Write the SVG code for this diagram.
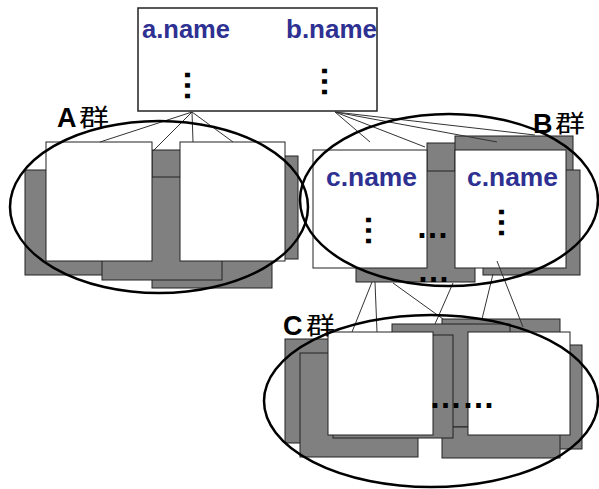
<svg xmlns="http://www.w3.org/2000/svg" width="599" height="489" viewBox="0 0 599 489">
<style>
.bg{fill:#ffffff}
.sh{fill:#808080;stroke:#222;stroke-width:1}
.pg{fill:#ffffff;stroke:#222;stroke-width:1}
.box{fill:#ffffff;stroke:#222;stroke-width:1.5}
.ring{fill:none;stroke:#000;stroke-width:2.5}
.ln{stroke:#333;stroke-width:1;fill:none}
.nm{font-family:"Liberation Sans",Arial,sans-serif;font-weight:bold;fill:#2e3192}
.dots{font-family:"Liberation Sans",Arial,sans-serif;font-weight:bold;font-size:33px;fill:#000}
.grp{font-family:"Liberation Sans","Noto Sans CJK SC",sans-serif;fill:#000}
.grp .l{font-weight:bold;font-size:27px}
.grp .c{font-family:"Noto Sans CJK SC",sans-serif;font-weight:normal;font-size:24px}
</style>
<rect class="bg" x="0" y="0" width="599" height="489"/>

<g id="node-ab">
<rect class="box" x="138" y="8" width="239" height="103"/>
<text class="nm" x="142" y="38" font-size="25" textLength="88" lengthAdjust="spacingAndGlyphs">a.name</text>
<text class="nm" x="286" y="38" font-size="25" textLength="91" lengthAdjust="spacingAndGlyphs">b.name</text>
<text class="dots" transform="translate(185,69) rotate(90)">…</text>
<text class="dots" transform="translate(322,65) rotate(90)">…</text>
</g>

<g id="node-A">
<rect class="sh" x="200" y="156" width="98" height="103"/>
<rect class="sh" x="152" y="150" width="120" height="138"/>
<rect class="sh" x="25" y="170" width="105" height="105"/>
<rect class="sh" x="102" y="177" width="120" height="103"/>
<rect class="pg" x="46" y="142" width="106" height="119"/>
<rect class="pg" x="180" y="142" width="105" height="119"/>
</g>

<g id="node-B">
<rect class="sh" x="427" y="143" width="113" height="107"/>
<rect class="sh" x="455" y="136" width="118" height="114"/>
<rect class="sh" x="483" y="170" width="97" height="105"/>
<rect class="sh" x="356" y="171" width="119" height="111"/>
<rect class="pg" x="313" y="150" width="114" height="118"/>
<rect class="pg" x="455" y="150" width="111" height="118"/>
<text class="nm" x="326" y="186" font-size="26" textLength="91" lengthAdjust="spacingAndGlyphs">c.name</text>
<text class="nm" x="467" y="186" font-size="26" textLength="91" lengthAdjust="spacingAndGlyphs">c.name</text>
<text class="dots" transform="translate(366,214) rotate(90)">…</text>
<text class="dots" transform="translate(499,206) rotate(90)">…</text>
<text class="dots" x="416" y="238">…</text>
<text class="dots" x="417" y="282">…</text>
</g>

<g id="node-C">
<rect class="sh" x="442" y="319" width="118" height="108"/>
<rect class="sh" x="392" y="324" width="118" height="103"/>
<rect class="sh" x="470" y="345" width="112" height="104"/>
<rect class="sh" x="442" y="427" width="118" height="31"/>
<rect class="sh" x="285" y="339" width="115" height="104"/>
<rect class="sh" x="300" y="353" width="118" height="104"/>
<rect class="sh" x="333" y="335" width="120" height="103"/>
<rect class="pg" x="328" y="332" width="105" height="103"/>
<rect class="pg" x="468" y="332" width="102" height="103"/>
<text class="dots" x="429" y="408">……</text>
</g>

<g id="connectors">
<line class="ln" x1="192" y1="112" x2="100" y2="142"/>
<line class="ln" x1="192" y1="112" x2="153" y2="151"/>
<line class="ln" x1="192" y1="112" x2="193" y2="142"/>
<line class="ln" x1="192" y1="112" x2="233" y2="142"/>
<line class="ln" x1="335" y1="112" x2="370" y2="142"/>
<line class="ln" x1="335" y1="112" x2="425" y2="147"/>
<line class="ln" x1="335" y1="112" x2="497" y2="142"/>
<line class="ln" x1="335" y1="112" x2="535" y2="135"/>
<line class="ln" x1="372" y1="282" x2="352" y2="332"/>
<line class="ln" x1="375" y1="282" x2="377" y2="332"/>
<line class="ln" x1="393" y1="283" x2="443" y2="319"/>
<line class="ln" x1="453" y1="283" x2="435" y2="324"/>
<line class="ln" x1="493" y1="274" x2="482" y2="319"/>
<line class="ln" x1="497" y1="261" x2="523" y2="327"/>
</g>

<g id="group-A">
<ellipse class="ring" cx="159" cy="207" rx="149" ry="86"/>
<text class="grp" x="57" y="127"><tspan class="l">A</tspan><tspan class="c" x="79" y="126" textLength="30" lengthAdjust="spacingAndGlyphs">群</tspan></text>
</g>
<g id="group-B">
<ellipse class="ring" cx="449" cy="200" rx="149" ry="86"/>
<text class="grp" x="533" y="133"><tspan class="l">B</tspan><tspan class="c" x="555" y="132" textLength="30" lengthAdjust="spacingAndGlyphs">群</tspan></text>
</g>
<g id="group-C">
<ellipse class="ring" cx="431" cy="401" rx="167" ry="86"/>
<text class="grp" x="283" y="335"><tspan class="l">C</tspan><tspan class="c" x="306" y="334" textLength="29" lengthAdjust="spacingAndGlyphs">群</tspan></text>
</g>
</svg>
